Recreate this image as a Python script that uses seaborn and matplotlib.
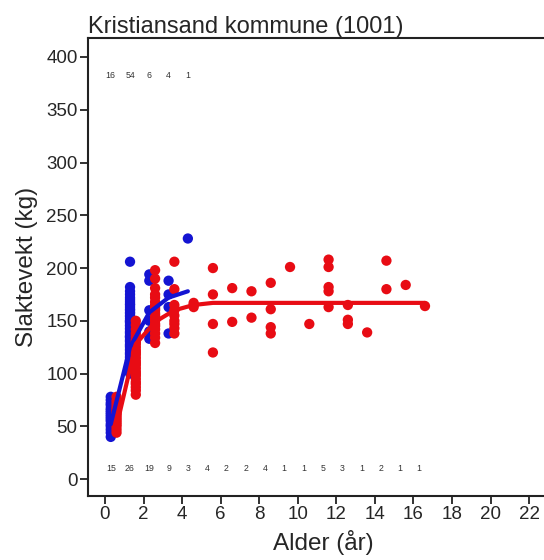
import numpy as np
import pandas as pd
import matplotlib
matplotlib.use("Agg")
import matplotlib.pyplot as plt
import seaborn as sns

# weights (kg) per age class, two groups (blue / red in the figure)
blue_ages = [0, 1, 2, 3, 4]
blue_weights = [
    [78, 75, 72, 70, 67, 65, 63, 61, 59, 57, 55, 52, 50, 47, 44, 40],
    [206, 182, 178, 175, 172, 170, 168, 166, 165, 163, 161, 160, 158, 157,
     155, 154, 152, 150, 150, 149, 148, 146, 145, 143, 142, 140, 139, 138,
     136, 135, 135, 134, 132, 131, 130, 128, 127, 126, 125, 123, 122, 120,
     119, 118, 116, 115, 113, 112, 110, 108, 106, 104, 102, 100],
    [194, 188, 160, 150, 140, 133],
    [188, 175, 163, 138],
    [228],
]
red_ages = list(range(17))
red_weights = [
    [78, 74, 71, 68, 66, 64, 62, 60, 58, 56, 54, 52, 50, 47, 44],
    [150, 146, 142, 138, 135, 132, 130, 128, 125, 122, 120, 118, 115, 112,
     110, 108, 105, 102, 100, 98, 95, 92, 90, 87, 84, 80],
    [198, 190, 181, 175, 172, 168, 165, 162, 160, 157, 155, 152, 150, 147,
     145, 142, 138, 134, 129],
    [206, 180, 165, 160, 155, 150, 147, 143, 138],
    [167, 165, 163],
    [200, 175, 147, 120],
    [181, 149],
    [178, 153],
    [186, 161, 144, 138],
    [201],
    [147],
    [208, 201, 182, 178, 163],
    [165, 151, 147],
    [139],
    [207, 180],
    [184],
    [164],
]
# fitted growth curves
blue_fit = [52, 125, 158, 172, 178]
red_fit = [50, 128, 149, 160, 165, 167, 167, 167, 167, 167, 167, 167, 167, 167, 167, 167, 167]

BLUE = "#1414d2"
RED = "#e80c14"
blue_off, red_off = 0.3, 0.6

rows = []
for a, ws in zip(blue_ages, blue_weights):
    rows += [("blue", a + blue_off, w) for w in ws]
for a, ws in zip(red_ages, red_weights):
    rows += [("red", a + red_off, w) for w in ws]
df = pd.DataFrame(rows, columns=["grp", "alder", "vekt"])

fits = pd.DataFrame({
    "grp": ["blue"] * len(blue_ages) + ["red"] * len(red_ages),
    "alder": [a + blue_off for a in blue_ages] + [a + red_off for a in red_ages],
    "vekt": blue_fit + red_fit,
})

sns.set_style("ticks")
plt.rcParams["font.family"] = ["Liberation Sans", "DejaVu Sans"]

fig = plt.figure(figsize=(5.44, 5.6), dpi=100)
ax = fig.add_axes([88 / 544, 64 / 560, 470 / 544, 458 / 560])

pal = {"blue": BLUE, "red": RED}
sns.scatterplot(data=df, x="alder", y="vekt", hue="grp", palette=pal,
                s=55, linewidth=0, legend=False, ax=ax, zorder=2)
sns.lineplot(data=fits, x="alder", y="vekt", hue="grp", palette=pal,
             linewidth=3, legend=False, ax=ax, zorder=3)

# sample sizes
for a, ws in zip(blue_ages, blue_weights):
    ax.text(a + 0.3, 382, str(len(ws)), fontsize=6.3, color="#333333",
            ha="center", va="center")
for a, ws in zip(red_ages, red_weights):
    ax.text(a + 0.3, 10, str(len(ws)), fontsize=6.3, color="#333333",
            ha="center", va="center")

ax.set_xlim(-0.88, 23.5)
ax.set_ylim(-16, 418)
ax.set_xticks(np.arange(0, 23, 2))
ax.set_yticks(np.arange(0, 401, 50))
ax.tick_params(labelsize=13.5, length=5.5, width=1.3, color="#222222", pad=2)
for s in ax.spines.values():
    s.set_linewidth(1.5)
    s.set_color("#222222")
ax.set_xlabel("Alder (år)", fontsize=17.5, labelpad=5)
ax.set_ylabel("Slaktevekt (kg)", fontsize=17.5, labelpad=6)
ax.set_title("Kristiansand kommune (1001)", loc="left", fontsize=17, pad=2)

fig.savefig("out.png", dpi=100)
